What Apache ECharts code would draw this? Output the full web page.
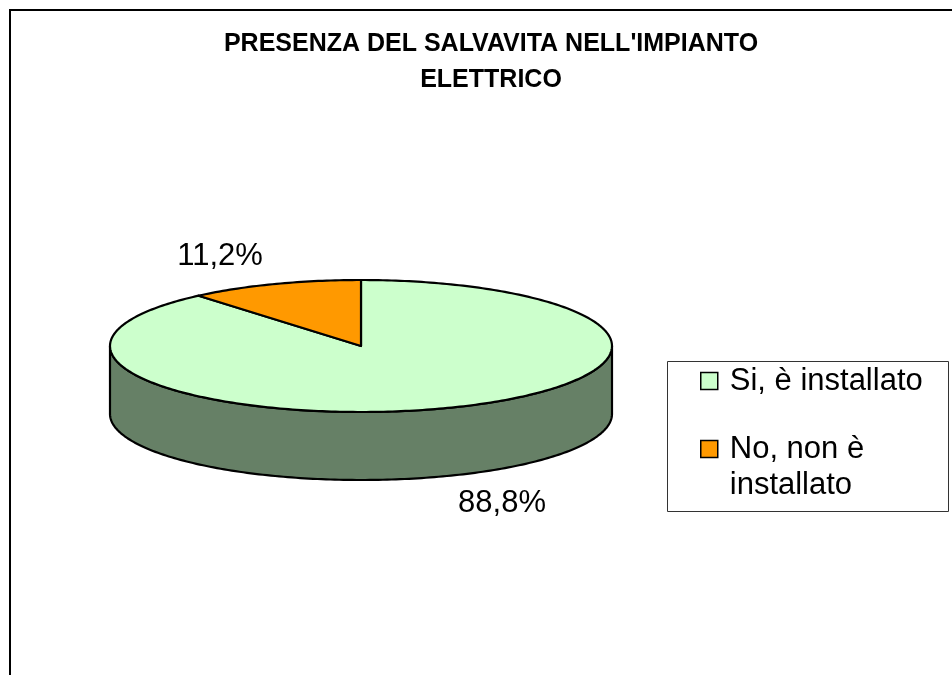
<!DOCTYPE html>
<html>
<head>
<meta charset="utf-8">
<script src="https://cdn.jsdelivr.net/npm/echarts@6/dist/echarts.min.js"></script>
<style>
  html, body { margin: 0; padding: 0; background: #fff; }
  #main { width: 952px; height: 675px; }
</style>
</head>
<body>
<div id="main"></div>
<script>
// dati
var categories = ['Si, è installato', 'No, non è\ninstallato'];
var values = [88.8, 11.2];
var colors = ['#CCFFCC', '#FF9900'];
var sideColor = '#668066';

// geometria della torta 3D (ellisse + spessore)
var CX = 361, CY = 346, RX = 251, RY = 66, DEPTH = 68;
var FONT = '"Liberation Sans", Arial, sans-serif';

var total = values.reduce(function (a, b) { return a + b; }, 0);

function pt(deg, dy) {
  var r = deg * Math.PI / 180;
  return [CX + RX * Math.sin(r), CY - RY * Math.cos(r) + (dy || 0)];
}

function arc(a0, a1, dy) {
  var pts = [];
  var n = Math.max(2, Math.ceil(Math.abs(a1 - a0)));
  for (var k = 0; k <= n; k++) {
    pts.push(pt(a0 + (a1 - a0) * k / n, dy));
  }
  return pts;
}

function pctLabel(v) {
  return v.toFixed(1).replace('.', ',') + '%';
}

function renderSlice(params, api) {
  var idx = params.seriesIndex;
  var before = 0;
  for (var i = 0; i < idx; i++) before += values[i];
  var v = api.value(0);
  var start = before / total * 360;
  var end = start + v / total * 360;
  var children = [];

  // parete laterale visibile (metà anteriore)
  var s = Math.max(start, 90), e = Math.min(end, 270);
  if (e > s) {
    var wall = arc(s, e, 0).concat(arc(e, s, DEPTH));
    children.push({
      type: 'polygon', z2: 0,
      shape: { points: wall },
      style: { fill: sideColor, stroke: '#000', lineWidth: 2.2, lineJoin: 'round' }
    });
  }

  // faccia superiore
  var top = [[CX, CY]].concat(arc(start, end, 0));
  children.push({
    type: 'polygon', z2: 10,
    shape: { points: top },
    style: { fill: colors[idx], stroke: '#000', lineWidth: 2.2, lineJoin: 'round' }
  });

  // etichetta percentuale
  var mid = (start + end) / 2;
  var r = mid * Math.PI / 180;
  var cos = Math.cos(r);
  var lx = CX + 1.63 * RX * Math.sin(r);
  var ly = CY + (cos < 0 ? DEPTH : 0) - 1.45 * RY * cos;
  children.push({
    type: 'text', z2: 20,
    style: {
      text: pctLabel(v), x: lx, y: ly,
      fill: '#000', font: '31px ' + FONT,
      align: 'center', verticalAlign: 'middle'
    }
  });

  return { type: 'group', children: children };
}

var series = categories.map(function (name, i) {
  return {
    type: 'custom',
    name: name,
    coordinateSystem: 'none',
    itemStyle: { color: colors[i] },
    renderItem: renderSlice,
    data: [values[i]]
  };
});

var chart = echarts.init(document.getElementById('main'), null, { renderer: 'canvas' });
chart.setOption({
  animation: false,
  backgroundColor: '#fff',
  title: {
    text: "PRESENZA DEL SALVAVITA NELL'IMPIANTO\nELETTRICO",
    left: 491,
    top: 26,
    padding: 0,
    textAlign: 'center',
    textStyle: {
      fontFamily: FONT,
      fontWeight: 'bold',
      fontSize: 25,
      lineHeight: 36,
      color: '#000'
    }
  },
  legend: {
    orient: 'vertical',
    left: 700,
    top: 363,
    padding: 0,
    itemGap: -4,
    itemWidth: 17,
    itemHeight: 17,
    icon: 'rect',
    itemStyle: { borderColor: '#000', borderWidth: 1.5 },
    // la voce su due righe tiene il quadratino sulla prima riga
    formatter: function (name) {
      return name.indexOf('\n') >= 0 ? ' \n' + name : name;
    },
    textStyle: {
      fontFamily: FONT,
      fontSize: 31,
      lineHeight: 36,
      color: '#000',
      padding: [0, 0, 0, 7]
    },
    data: categories
  },
  graphic: [
    {
      type: 'rect', silent: true,
      shape: { x: 10, y: 10, width: 1200, height: 1000 },
      style: { fill: 'none', stroke: '#000', lineWidth: 2 }
    },
    {
      type: 'rect', silent: true,
      shape: { x: 667.5, y: 361.5, width: 281, height: 150 },
      style: { fill: 'none', stroke: '#333', lineWidth: 1 }
    }
  ],
  series: series
});
</script>
</body>
</html>
